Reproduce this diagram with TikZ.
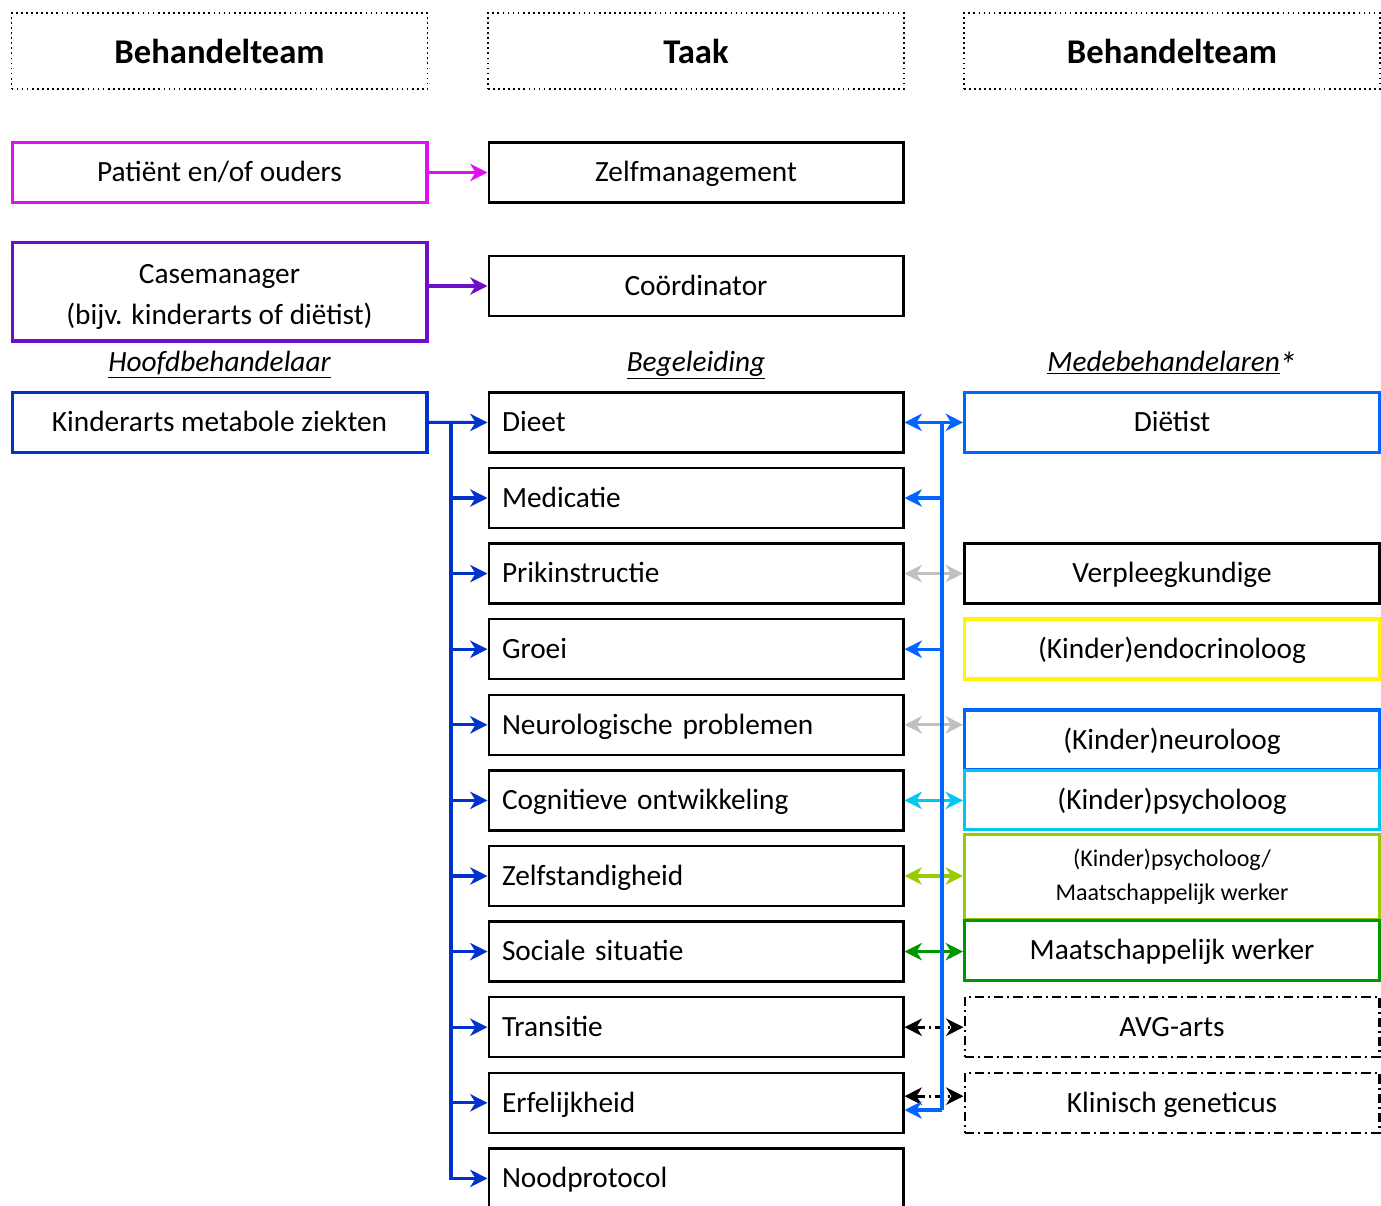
\documentclass[tikz,border=0pt]{standalone}
\usepackage{fontspec}
\setmainfont{Carlito}
\usetikzlibrary{arrows.meta}

\definecolor{patcol}{RGB}{222,18,240}
\definecolor{casecol}{RGB}{110,14,200}
\definecolor{kindcol}{RGB}{0,50,204}
\definecolor{dietcol}{RGB}{0,102,255}
\definecolor{yelcol}{RGB}{255,245,0}
\definecolor{cyancol}{RGB}{0,200,240}
\definecolor{ygcol}{RGB}{150,204,0}
\definecolor{grncol}{RGB}{0,150,0}
\definecolor{greycol}{RGB}{192,192,192}

\begin{document}
\begin{tikzpicture}[x=0.75pt,y=-0.75pt,
    txt/.style={font=\fontsize{22}{31}\selectfont},
    box/.style={txt, draw, line width=2.5pt, minimum width=311pt, minimum height=45pt, inner sep=0pt, align=center},
    one/.style={box, text height=16pt, text depth=2pt},
    plain/.style={one, line width=1.75pt},
    task/.style={plain, inner xsep=10pt, text width=291pt, align=left},
    dd/.style={dash pattern=on 7pt off 3pt on 1.5pt off 3pt},
    head/.style={draw, line width=1.3pt, dash pattern=on 1.3pt off 2.5pt, minimum width=312pt, minimum height=57pt, font=\bfseries\fontsize{26}{30}\selectfont},
    lab/.style={font=\itshape\fontsize{22}{26}\selectfont, text height=16pt, text depth=6pt},
    tip/.tip={Stealth[length=13pt,width=13pt,inset=4pt]},
    arr/.style={line width=2.3pt, -tip},
    dub/.style={line width=2.3pt, tip-tip}]
  \useasboundingbox (0,0) rectangle (1381,1206);

  % kopjes
  \node[head] (h1) at (219.5,51) {Behandelteam};
  \node[head] (h2) at (696,51) {Taak};
  \node[head] (h3) at (1172,51) {Behandelteam};

  % linkerkolom
  \node[one, draw=patcol] (pat) at (219.5,172.5) {Patiënt en/of ouders};
  \node[plain] (zelf) at (696,172.5) {Zelfmanagement};
  \node[box, draw=casecol, minimum height=74pt, text height=55pt, text depth=5pt] (case) at (219.5,291.5) {Casemanager\\(bijv. kinderarts of diëtist)};
  \node[plain] (coord) at (696,286) {Coördinator};

  \node[lab] (l1) at (219.5,365) {\underline{Hoofdbehandelaar}};
  \node[lab] (l2) at (696,365) {\underline{Begeleiding}};
  \node[lab] (l3) at (1172,365) {\underline{Medebehandelaren}\kern-1pt\raisebox{-4pt}{\fontsize{27}{27}\selectfont*}};

  \node[one, draw=kindcol] (kind) at (219.5,422.5) {Kinderarts metabole ziekten};

  % taken
  \foreach \n/\t [count=\i from 0] in {dieet/Dieet, med/Medicatie, prik/Prikinstructie, groei/Groei,
      neuro/Neurologische problemen, cogn/Cognitieve ontwikkeling, zelfst/Zelfstandigheid,
      soc/Sociale situatie, trans/Transitie, erf/Erfelijkheid, nood/Noodprotocol}
    \node[task] (\n) at (696,422.4+75.6*\i) {\t};

  % medebehandelaren
  \node[one, draw=dietcol] (dietist) at (1172,422.5) {Diëtist};
  \node[one] (verpl) at (1172,573.2) {Verpleegkundige};
  \node[one, draw=yelcol] (endo) at (1172,649) {(Kinder)endocrinoloog};
  \node[one, draw=dietcol] (neurol) at (1172,740) {(Kinder)neuroloog};
  \node[one, draw=cyancol, minimum height=44pt] (psych) at (1172,800) {(Kinder)psycholoog};
  \node[box, draw=ygcol, minimum height=64pt, font=\fontsize{18}{25.5}\selectfont] (psymw) at (1172,877) {(Kinder)psycholoog/\\Maatschappelijk werker};
  \node[one, draw=grncol] (mw) at (1172,950.5) {Maatschappelijk werker};
  \node[plain, dd] (avg) at (1172,1027) {AVG-arts};
  \node[plain, dd] (klin) at (1172,1103) {Klinisch geneticus};

  % pijlen links
  \draw[arr, patcol] (pat) -- (zelf);
  \draw[arr, casecol] (case.east |- coord) -- (coord);
  \draw[arr, kindcol] (kind) -- (dieet);
  \coordinate (lb) at (451,422.5);
  \foreach \n in {med,prik,groei,neuro,cogn,zelfst,soc,trans,erf,nood}
    \draw[arr, kindcol] (lb) |- (\n);

  % pijlen rechts
  \draw[dub, greycol] (prik) -- (prik -| verpl.west);
  \draw[dub, greycol] (neuro) -- (neuro -| neurol.west);
  \draw[dub, cyancol] (cogn) -- (cogn -| psych.west);
  \draw[dub, ygcol] (zelfst) -- (zelfst -| psymw.west);
  \draw[dub, grncol] (soc) -- (soc -| mw.west);
  \draw[dub, dd] (trans) -- (trans -| avg.west);
  \draw[dub, dd] ([yshift=5pt]erf.east) -- ([yshift=5pt]erf.east -| klin.west);

  \coordinate (rb) at (942,422.5);
  \coordinate (rend) at (942,1110);
  \draw[dub, dietcol] (dieet) -- (dieet -| dietist.west);
  \draw[line width=2.3pt, dietcol] (rb) -- (rend);
  \draw[arr, dietcol] (rend) -- (rend -| erf.east);
  \foreach \n in {med,groei}
    \draw[arr, dietcol] (rb |- \n) -- (\n);
\end{tikzpicture}
\end{document}
